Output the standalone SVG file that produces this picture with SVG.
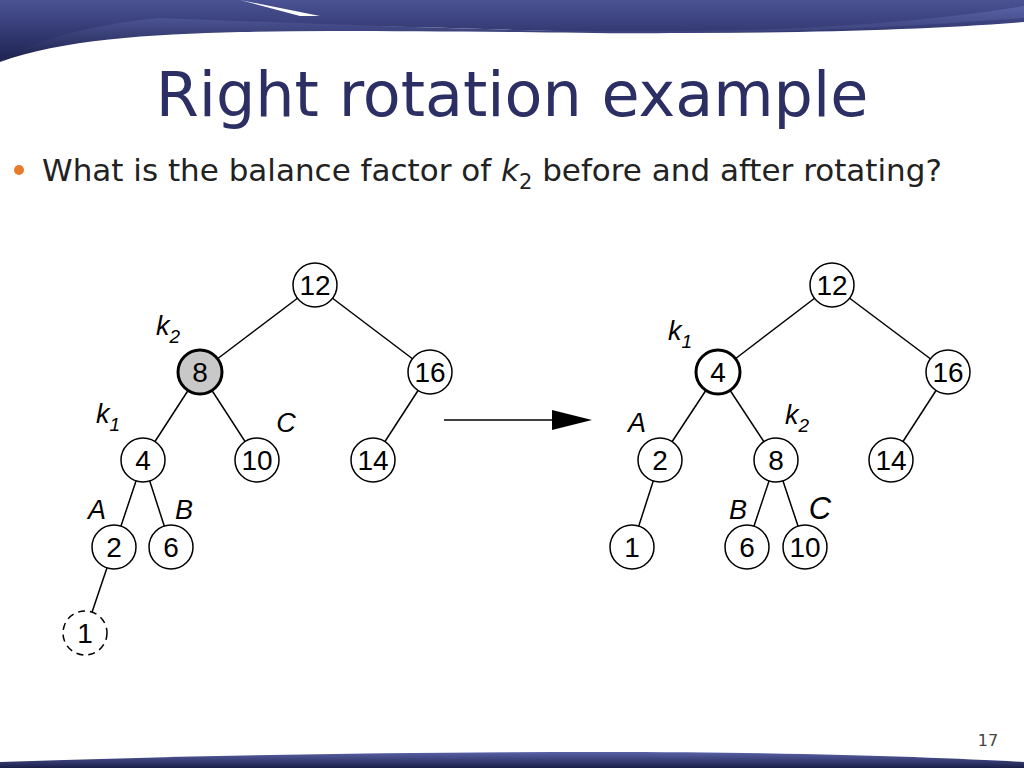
<svg xmlns="http://www.w3.org/2000/svg" width="1024" height="768" viewBox="0 0 1024 768">
<defs>
<linearGradient id="bn" x1="0" y1="0" x2="0" y2="1"><stop offset="0" stop-color="#4a5294"/><stop offset="1" stop-color="#1e2352"/></linearGradient>
<linearGradient id="bb" x1="0" y1="0" x2="0" y2="1"><stop offset="0" stop-color="#5a62a8"/><stop offset="1" stop-color="#1a1f48"/></linearGradient>
<marker id="ah" viewBox="0 0 10 10" refX="9" refY="5" markerWidth="40" markerHeight="20" markerUnits="userSpaceOnUse" orient="auto" preserveAspectRatio="none"><path d="M0,0L10,5L0,10z" fill="#000"/></marker>
</defs>
<style>
.n circle{fill:#fff;stroke:#000;stroke-width:1.5}
.n text,.lb{font-family:"Liberation Sans",Arial,sans-serif;font-size:28px;text-anchor:middle}
.lb{font-style:italic;font-size:27px}
.lb tspan{font-size:19px}
#edges line{stroke:#000;stroke-width:1.5}
</style>
<rect width="1024" height="768" fill="#fff"/>
<path d="M0,0H1024V22C900,32 700,36 520,30C380,26 250,24 160,24C90,28 30,44 0,62Z" fill="url(#bn)"/>
<path d="M0,62C60,40 150,34 240,32C330,30 420,32 520,32C640,34 780,36 1024,18V6C880,30 700,34 520,30C400,27 260,22 160,18C80,26 30,42 0,62Z" fill="url(#bb)"/>
<path d="M240,0L320,16L300,16Z" fill="#fff"/>
<path d="M0,768V762C200,755 400,752 600,752C800,752 950,758 1024,762V768Z" fill="url(#bb)"/>
<text x="512" y="116" font-family="Verdana,'DejaVu Sans',sans-serif" font-size="62" fill="#2b2f63" text-anchor="middle">Right rotation example</text>
<circle cx="19" cy="170" r="5" fill="#e87a2c"/>
<text x="42" y="181" font-family="Verdana,'DejaVu Sans',sans-serif" font-size="31" fill="#222">What is the balance factor of <tspan font-style="italic">k</tspan><tspan font-size="21" dy="8">2</tspan><tspan dy="-8"> before and after rotating?</tspan></text>
<text x="988" y="746" font-family="Verdana,'DejaVu Sans',sans-serif" font-size="16" fill="#444" text-anchor="middle">17</text>
<g id="edges">
<line x1="315" y1="285" x2="200" y2="372"/><line x1="315" y1="285" x2="430" y2="372"/>
<line x1="200" y1="372" x2="143" y2="460"/><line x1="200" y1="372" x2="257" y2="460"/>
<line x1="430" y1="372" x2="373" y2="460"/>
<line x1="143" y1="460" x2="114" y2="547"/><line x1="143" y1="460" x2="171" y2="547"/>
<line x1="114" y1="547" x2="85" y2="633"/>
<line x1="832" y1="285" x2="718" y2="372"/><line x1="832" y1="285" x2="948" y2="372"/>
<line x1="718" y1="372" x2="660" y2="460"/><line x1="718" y1="372" x2="776" y2="460"/>
<line x1="948" y1="372" x2="891" y2="460"/>
<line x1="660" y1="460" x2="632" y2="547"/>
<line x1="776" y1="460" x2="747" y2="547"/><line x1="776" y1="460" x2="805" y2="547"/>
<line x1="444" y1="420" x2="588" y2="420" stroke-width="2.5" marker-end="url(#ah)"/>
</g>
<g id="L12" class="n"><circle cx="315" cy="285" r="22"/><text x="315" y="295">12</text></g>
<g id="L8" class="n"><circle cx="200" cy="372" r="22" style="fill:#c8c8c8;stroke-width:3"/><text x="200" y="382">8</text></g>
<g id="L16" class="n"><circle cx="430" cy="372" r="22"/><text x="430" y="382">16</text></g>
<g id="L4" class="n"><circle cx="143" cy="460" r="22"/><text x="143" y="470">4</text></g>
<g id="L10" class="n"><circle cx="257" cy="460" r="22"/><text x="257" y="470">10</text></g>
<g id="L14" class="n"><circle cx="373" cy="460" r="22"/><text x="373" y="470">14</text></g>
<g id="L2" class="n"><circle cx="114" cy="547" r="22"/><text x="114" y="557">2</text></g>
<g id="L6" class="n"><circle cx="171" cy="547" r="22"/><text x="171" y="557">6</text></g>
<g id="L1" class="n"><circle cx="85" cy="633" r="22" style="stroke-dasharray:7 5"/><text x="85" y="643">1</text></g>
<g id="R12" class="n"><circle cx="832" cy="285" r="22"/><text x="832" y="295">12</text></g>
<g id="R4" class="n"><circle cx="718" cy="372" r="22" style="stroke-width:3"/><text x="718" y="382">4</text></g>
<g id="R16" class="n"><circle cx="948" cy="372" r="22"/><text x="948" y="382">16</text></g>
<g id="R2" class="n"><circle cx="660" cy="460" r="22"/><text x="660" y="470">2</text></g>
<g id="R8" class="n"><circle cx="776" cy="460" r="22"/><text x="776" y="470">8</text></g>
<g id="R14" class="n"><circle cx="891" cy="460" r="22"/><text x="891" y="470">14</text></g>
<g id="R1" class="n"><circle cx="632" cy="547" r="22"/><text x="632" y="557">1</text></g>
<g id="R6" class="n"><circle cx="747" cy="547" r="22"/><text x="747" y="557">6</text></g>
<g id="R10" class="n"><circle cx="805" cy="547" r="22"/><text x="805" y="557">10</text></g>
<text class="lb" x="168" y="335">k<tspan dy="8">2</tspan></text>
<text class="lb" x="108" y="423">k<tspan dy="8">1</tspan></text>
<text class="lb" x="286" y="432">C</text>
<text class="lb" x="97" y="519">A</text>
<text class="lb" x="184" y="519">B</text>
<text class="lb" x="680" y="340">k<tspan dy="8">1</tspan></text>
<text class="lb" x="637" y="432">A</text>
<text class="lb" x="797" y="424">k<tspan dy="8">2</tspan></text>
<text class="lb" x="738" y="519">B</text>
<text class="lb" x="820" y="519" style="font-size:31px">C</text>
</svg>
